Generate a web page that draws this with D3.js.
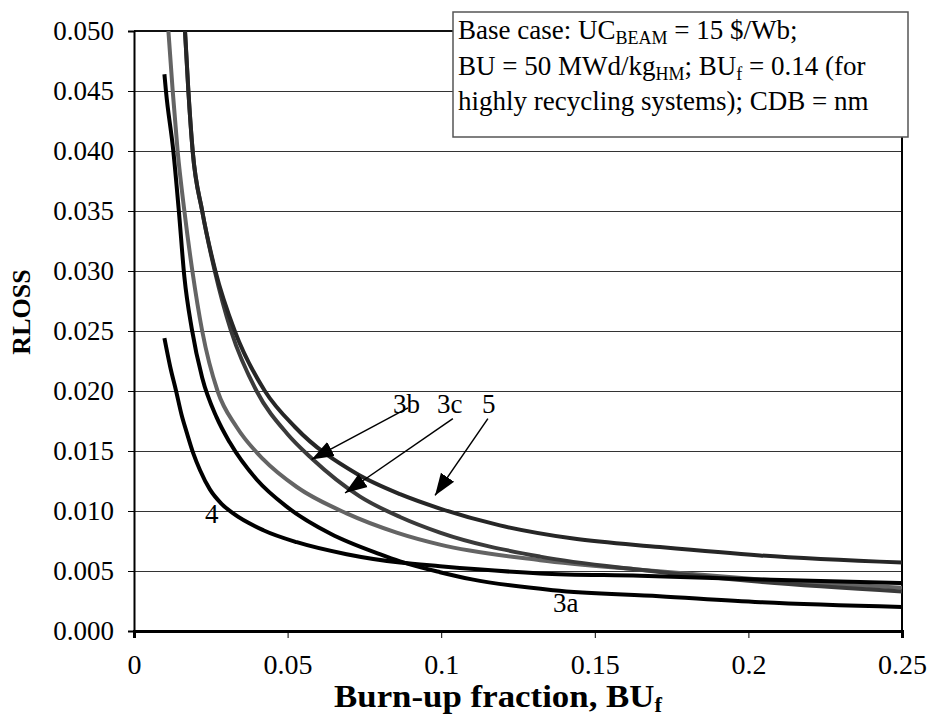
<!DOCTYPE html>
<html>
<head>
<meta charset="utf-8">
<script src="https://cdn.jsdelivr.net/npm/d3@7"></script>
<style>
  html, body { margin: 0; padding: 0; background: #fff; }
  svg text { font-family: "Liberation Serif", "Times New Roman", serif; }
</style>
</head>
<body>
<div id="chart"></div>
<script>
// RLOSS vs burn-up fraction, five scenario curves (3a, 3b, 3c, 4, 5)

const xTicks = [0, 0.05, 0.1, 0.15, 0.2, 0.25];
const yTicks = [0, 0.005, 0.01, 0.015, 0.02, 0.025, 0.03, 0.035, 0.04, 0.045, 0.05];

// [BUf, RLOSS] pairs
const s3a = [[0.0099,0.0464],[0.0104,0.045],[0.0128,0.040],[0.0146,0.035],[0.0164,0.0295],[0.0188,0.0252],
  [0.0222,0.0211],[0.0269,0.0178],[0.0312,0.0157],[0.040,0.0126],[0.050,0.0103],[0.064,0.0081],[0.080,0.0064],
  [0.0866,0.0058],[0.0996,0.0049],[0.110,0.0043],[0.1365,0.0034],[0.171,0.0029],[0.204,0.0024],[0.25,0.0020]];
const s4 = [[0.0099,0.0244],[0.0118,0.022],[0.0137,0.020],[0.0155,0.018],[0.0171,0.0166],[0.0193,0.0148],
  [0.0215,0.0134],[0.0247,0.0118],[0.0285,0.0106],[0.0323,0.0098],[0.0421,0.0084],[0.053,0.0074],[0.0692,0.0064],
  [0.0866,0.0057],[0.0996,0.0054],[0.1322,0.0048],[0.1647,0.0046],[0.2038,0.0043],[0.25,0.0040]];
const s3c = [[0.0112,0.050],[0.0126,0.045],[0.0142,0.040],[0.0164,0.035],[0.019,0.030],[0.0222,0.025],
  [0.0272,0.020],[0.0334,0.0170],[0.0421,0.0143],[0.053,0.0120],[0.0692,0.0098],[0.0855,0.0082],[0.0996,0.0072],
  [0.1322,0.0059],[0.1647,0.0051],[0.2038,0.0043],[0.25,0.0036]];
const s3b = [[0.0166,0.050],[0.0177,0.045],[0.0191,0.040],[0.0222,0.035],[0.0263,0.030],
  [0.0316,0.025],[0.0399,0.020],[0.050,0.0164],[0.0578,0.0144],[0.0736,0.0112],[0.0866,0.0095],[0.0996,0.0082],
  [0.1322,0.0062],[0.1647,0.0051],[0.2038,0.0041],[0.25,0.0033]];
const s5 = [[0.0166,0.050],[0.0177,0.045],[0.0191,0.040],[0.0222,0.035],[0.0265,0.030],
  [0.0328,0.025],[0.0426,0.020],[0.0524,0.0170],[0.0725,0.0131],[0.0866,0.0114],[0.0996,0.0102],[0.1191,0.0088],
  [0.143,0.0077],[0.1712,0.0070],[0.2038,0.0063],[0.25,0.0057]];

// curve labels: [text, x, y] in data units
const curveLabels = [["3b", 0.0843, 0.0182], ["3c", 0.0986, 0.0182], ["5", 0.1133, 0.0182],
  ["4", 0.0231, 0.0090], ["3a", 0.1364, 0.0016]];
// arrows: [fromX, fromY, toX, toY]
const arrows = [[0.0892, 0.0186, 0.0578, 0.0143], [0.1038, 0.0177, 0.0687, 0.0115], [0.1152, 0.0177, 0.0980, 0.0113]];

const W = 927, H = 717;
const M = { top: 31, right: 25, bottom: 86, left: 134 };
const iW = W - M.left - M.right;
const iH = H - M.top - M.bottom;

const svg = d3.select('#chart').append('svg')
  .attr('width', W).attr('height', H)
  .style('display', 'block');

const x = d3.scaleLinear().domain([0, 0.25]).range([0, iW]);
const y = d3.scaleLinear().domain([0, 0.05]).range([iH, 0]);

const defs = svg.append('defs');
defs.append('clipPath').attr('id', 'plotclip')
  .append('rect').attr('x', M.left).attr('y', M.top).attr('width', iW).attr('height', iH);
defs.append('marker')
  .attr('id', 'arrowhead').attr('markerUnits', 'userSpaceOnUse')
  .attr('viewBox', '0 0 24 18')
  .attr('markerWidth', 24).attr('markerHeight', 18)
  .attr('refX', 22).attr('refY', 9).attr('orient', 'auto')
  .append('path').attr('d', 'M0,1 L22,9 L0,17 Z').attr('fill', '#000');

const g = svg.append('g').attr('transform', `translate(${M.left},${M.top})`);

// grid
g.append('g').selectAll('line').data(yTicks.filter(d => d > 0 && d < 0.05)).enter().append('line')
  .attr('x1', 0).attr('x2', iW)
  .attr('y1', d => y(d)).attr('y2', d => y(d))
  .attr('stroke', '#333').attr('stroke-width', 1).attr('shape-rendering', 'crispEdges');

// top and right border
g.append('line').attr('x1', 0).attr('x2', iW).attr('y1', 0).attr('y2', 0)
  .attr('stroke', '#111').attr('stroke-width', 2);
g.append('line').attr('x1', iW).attr('x2', iW).attr('y1', 0).attr('y2', iH)
  .attr('stroke', '#000').attr('stroke-width', 2);

// axes
const yAxis = g.append('g')
  .call(d3.axisLeft(y).tickValues(yTicks).tickSize(6).tickPadding(14).tickFormat(d3.format('.3f')));
yAxis.select('.domain').attr('stroke-width', 2);
yAxis.selectAll('text').attr('font-size', 27).attr('fill', '#000');

const xAxis = g.append('g').attr('transform', `translate(0,${iH})`)
  .call(d3.axisBottom(x).tickValues(xTicks).tickSize(7).tickPadding(16).tickFormat(d => String(+d.toFixed(2))));
xAxis.select('.domain').attr('stroke-width', 3);
xAxis.selectAll('text').attr('font-size', 28).attr('fill', '#000');

// curves (clip rect is in svg space, so the translate sits inside the clipped group)
const line = d3.line().x(d => x(d[0])).y(d => y(d[1])).curve(d3.curveMonotoneX);
const series = [
  { data: s3c, color: '#646464' },
  { data: s3b, color: '#3a3a3a' },
  { data: s5, color: '#262626' },
  { data: s3a, color: '#000' },
  { data: s4, color: '#000' }
];
const curveLayer = svg.append('g').attr('clip-path', 'url(#plotclip)')
  .append('g').attr('transform', `translate(${M.left},${M.top})`);
curveLayer.selectAll('path').data(series).enter().append('path')
  .attr('d', d => line(d.data))
  .attr('fill', 'none').attr('stroke', d => d.color).attr('stroke-width', 4)
  .attr('stroke-linejoin', 'round');

// arrows + curve labels
const ann = svg.append('g').attr('transform', `translate(${M.left},${M.top})`);
ann.selectAll('line').data(arrows).enter().append('line')
  .attr('x1', d => x(d[0])).attr('y1', d => y(d[1]))
  .attr('x2', d => x(d[2])).attr('y2', d => y(d[3]))
  .attr('stroke', '#000').attr('stroke-width', 1.5)
  .attr('marker-end', 'url(#arrowhead)');
ann.selectAll('text').data(curveLabels).enter().append('text')
  .attr('x', d => x(d[1])).attr('y', d => y(d[2]))
  .attr('font-size', 27).attr('fill', '#000')
  .text(d => d[0]);

// axis titles
const xt = svg.append('text').attr('x', 498).attr('y', 707)
  .attr('text-anchor', 'middle').attr('font-size', 31).attr('font-weight', 'bold')
  .attr('textLength', 328).attr('lengthAdjust', 'spacingAndGlyphs');
xt.append('tspan').text('Burn-up fraction, BU');
xt.append('tspan').attr('font-size', 20).attr('dy', 5).text('f');

svg.append('text').attr('transform', 'rotate(-90)')
  .attr('x', -312).attr('y', 30)
  .attr('text-anchor', 'middle').attr('font-size', 26).attr('font-weight', 'bold')
  .text('RLOSS');

// info box
const box = svg.append('g');
box.append('rect').attr('x', 453).attr('y', 12).attr('width', 455).attr('height', 125)
  .attr('fill', '#fff').attr('stroke', '#555').attr('stroke-width', 1.5);
const boxLines = [
  [['Base case: UC', 0], ['BEAM', 1], [' = 15 $/Wb;', 0]],
  [['BU = 50 MWd/kg', 0], ['HM', 1], ['; BU', 0], ['f', 1], [' = 0.14 (for', 0]],
  [['highly recycling systems); CDB = nm', 0]]
];
boxLines.forEach((parts, i) => {
  const t = box.append('text').attr('x', 458).attr('y', 39 + i * 35.5).attr('font-size', 27).attr('fill', '#000');
  let prev = 0;
  parts.forEach(([txt, sub]) => {
    t.append('tspan').attr('font-size', sub ? 18 : 27)
      .attr('dy', (sub ? 5 : 0) - prev).text(txt);
    prev = sub ? 5 : 0;
  });
});
</script>
</body>
</html>
